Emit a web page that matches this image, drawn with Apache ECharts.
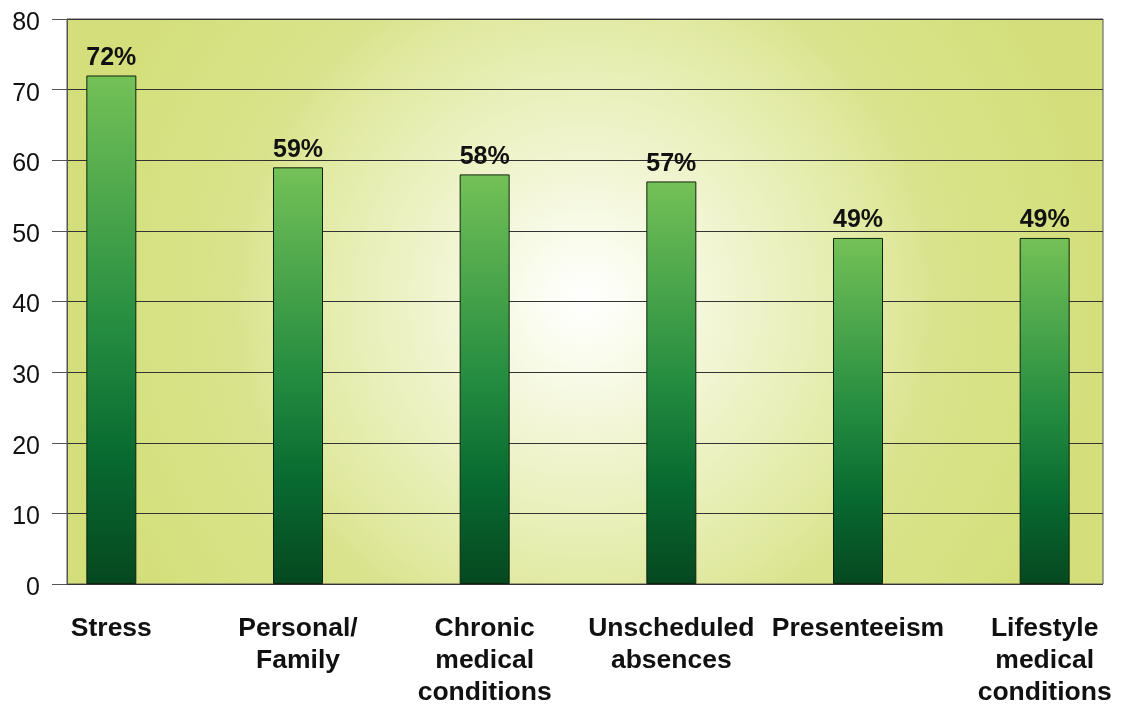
<!DOCTYPE html>
<html><head><meta charset="utf-8">
<script src="https://cdn.jsdelivr.net/npm/echarts@6/dist/echarts.min.js"></script>
<style>html,body{margin:0;padding:0;background:#fff}#c{width:1121px;height:705px}</style>
</head><body><div id="c"></div>
<script>
var categories = ['Stress', 'Personal/\nFamily', 'Chronic\nmedical\nconditions', 'Unscheduled\nabsences', 'Presenteeism', 'Lifestyle\nmedical\nconditions'];
var values = [72, 59, 58, 57, 49, 49];
var labels = ['72%', '59%', '58%', '57%', '49%', '49%'];
var yMin = 0, yMax = 80, yStep = 10;

var font = 'Arial, "Liberation Sans", Helvetica, sans-serif';
var chart = echarts.init(document.getElementById('c'));
chart.setOption({
  animation: false,
  grid: [
    {left: 67, top: 19, width: 1036, height: 565, show: true, outerBoundsMode: 'none', containLabel: false,
     borderColor: '#555', borderWidth: 1,
     backgroundColor: {type: 'radial', x: 0.5, y: 0.5, r: 1.0,
       colorStops: [{offset: 0, color: '#ffffff'}, {offset: 0.1, color: '#fafcee'},
                    {offset: 0.25, color: '#f1f5d2'}, {offset: 0.47, color: '#e4ecab'},
                    {offset: 0.55, color: '#dfe89c'}, {offset: 0.62, color: '#d9e38c'},
                    {offset: 0.77, color: '#d6e283'}, {offset: 0.9, color: '#d4df7c'},
                    {offset: 1, color: '#d4df7c'}]}},
    {left: 18, top: 19, width: 1120, height: 565, show: false, outerBoundsMode: 'none', containLabel: false}
  ],
  xAxis: [
    {gridIndex: 0, type: 'category', data: categories, show: false},
    {gridIndex: 1, type: 'category', data: categories,
     axisLine: {show: false}, axisTick: {show: false},
     axisLabel: {interval: 0, margin: 29, color: '#111', fontFamily: font, fontWeight: 'bold', fontSize: 26.5, lineHeight: 32, align: 'center', verticalAlign: 'top', hideOverlap: false}}
  ],
  yAxis: [
    {gridIndex: 0, type: 'value', min: yMin, max: yMax, interval: yStep,
     axisLine: {show: true, lineStyle: {color: '#555', width: 1}},
     axisTick: {show: true, length: 15, lineStyle: {color: '#555', width: 1}},
     axisLabel: {margin: 27, color: '#111', fontFamily: font, fontSize: 25, verticalAlign: 'top', lineHeight: 8},
     splitLine: {show: true, lineStyle: {color: '#333', width: 1}}},
    {gridIndex: 1, type: 'value', min: yMin, max: yMax, interval: yStep, show: false, splitLine: {show: false}}
  ],
  series: [{
    type: 'bar', xAxisIndex: 1, yAxisIndex: 1, data: values, barWidth: 50,
    itemStyle: {
      borderColor: '#10240c', borderWidth: 1,
      color: {type: 'linear', x: 0, y: 0, x2: 0, y2: 1,
        colorStops: [{offset: 0, color: '#74c157'}, {offset: 0.5, color: '#248c40'},
                     {offset: 0.75, color: '#086a30'}, {offset: 1, color: '#064820'}]}
    },
    label: {show: true, position: 'top', distance: 5, color: '#111', fontFamily: font, fontWeight: 'bold', fontSize: 25,
      formatter: function (p) { return labels[p.dataIndex]; }}
  }]
});
</script></body></html>
